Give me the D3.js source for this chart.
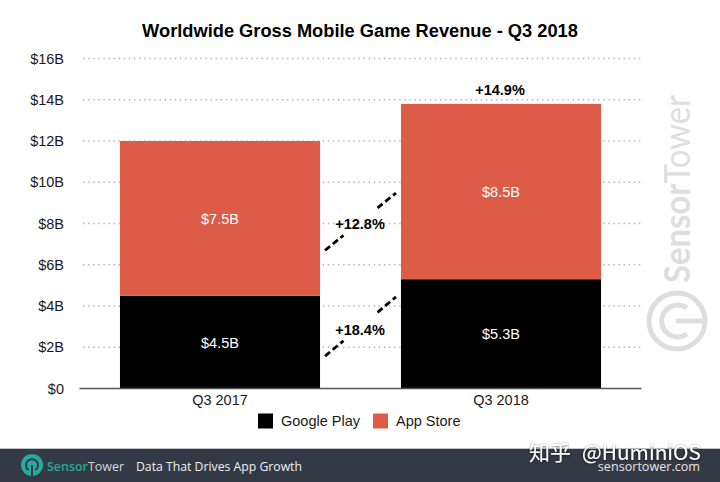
<!DOCTYPE html>
<html>
<head>
<meta charset="utf-8">
<script src="https://cdn.jsdelivr.net/npm/d3@7"></script>
<style>
html, body { margin: 0; padding: 0; background: #fff; }
svg { display: block; }
text { font-family: "Liberation Sans", Arial, sans-serif; }
</style>
</head>
<body>
<div id="chart"></div>
<script>
// chart data
var quarters = ["Q3 2017", "Q3 2018"];
var google_play = [4.5, 5.3];
var app_store = [7.5, 8.5];
var google_labels = ["$4.5B", "$5.3B"];
var store_labels = ["$7.5B", "$8.5B"];
var y_ticks = [0, 2, 4, 6, 8, 10, 12, 14, 16];
var series_names = ["Google Play", "App Store"];
var series_colors = ["#000000", "#dc5c48"];

// dashed growth connectors between the bars, in $B
var connector_from = [1.57, 6.7];
var connector_to = [4.44, 9.48];
var connector_labels = ["+18.4%", "+12.8%"];
var connector_label_at = [2.85, 8.0];
var total_growth = "+14.9%";

var width = 720;
var height = 482;

var svg = d3.select("#chart").append("svg")
	.attr("width", width)
	.attr("height", height);

var x_scale = d3.scaleBand().domain(quarters).range([79.5, 641.5])
	.paddingInner(0.288).paddingOuter(0.144);
var y_scale = d3.scaleLinear().domain([0, 16]).range([388.5, 58.5]);

svg.append("text")
	.attr("x", 360).attr("y", 37)
	.attr("text-anchor", "middle")
	.style("font-size", "18.25px").style("font-weight", "bold")
	.text("Worldwide Gross Mobile Game Revenue - Q3 2018");

// dotted grid
var grid_g = svg.append("g");
y_ticks.slice(1).forEach(function(t) {
	grid_g.append("line")
		.attr("x1", 83).attr("x2", 642)
		.attr("y1", y_scale(t)).attr("y2", y_scale(t))
		.style("stroke", "#b5b5b5")
		.style("stroke-width", "1.3")
		.style("stroke-dasharray", "1.4 3.7");
});

// watermark sits under the bars
var mark = svg.append("g").style("fill", "#dedede");
mark.append("text")
	.attr("transform", "translate(690,283) rotate(-90)")
	.attr("textLength", 188)
	.attr("lengthAdjust", "spacingAndGlyphs")
	.style("font-size", "36px")
	.style("font-family", "Lato, sans-serif")
	.html('<tspan style="font-weight:bold">Sensor</tspan><tspan>Tower</tspan>');
var mark_logo = svg.append("g").attr("transform", "translate(677,321)")
	.style("fill", "none").style("stroke", "#dedede");
mark_logo.append("circle").attr("r", 28).style("stroke-width", 5);
mark_logo.append("path").attr("d", "M 10 -13 A 16 16 0 1 0 10 13").style("stroke-width", 5);
mark_logo.append("line").attr("x1", -1).attr("x2", 28).attr("y1", 0).attr("y2", 0).style("stroke-width", 5);

// bars
var bar_w = x_scale.bandwidth();
svg.append("g").selectAll("rect").data(quarters).enter().append("rect")
	.attr("x", function(d) { return x_scale(d); })
	.attr("y", function(d, i) { return y_scale(google_play[i]); })
	.attr("width", bar_w)
	.attr("height", function(d, i) { return y_scale(0) - y_scale(google_play[i]); })
	.style("fill", series_colors[0]);
svg.append("g").selectAll("rect").data(quarters).enter().append("rect")
	.attr("x", function(d) { return x_scale(d); })
	.attr("y", function(d, i) { return y_scale(google_play[i] + app_store[i]); })
	.attr("width", bar_w)
	.attr("height", function(d, i) { return y_scale(google_play[i]) - y_scale(google_play[i] + app_store[i]); })
	.style("fill", series_colors[1]);

// value labels in the bars
quarters.forEach(function(q, i) {
	var cx = x_scale(q) + bar_w / 2;
	svg.append("text").attr("x", cx).attr("y", y_scale(google_play[i] / 2) + 5.5)
		.attr("text-anchor", "middle").style("fill", "#fff").style("font-size", "14.5px")
		.text(google_labels[i]);
	svg.append("text").attr("x", cx).attr("y", y_scale(google_play[i] + app_store[i] / 2) + 5.5)
		.attr("text-anchor", "middle").style("fill", "#fff").style("font-size", "14.5px")
		.text(store_labels[i]);
});

// y axis
var y_axis = d3.axisLeft(y_scale).tickValues(y_ticks).tickSize(0).tickPadding(0)
	.tickFormat(function(d) { return d == 0 ? "$0" : "$" + d + "B"; });
var y_g = svg.append("g").attr("transform", "translate(64,0)").call(y_axis);
y_g.select(".domain").remove();
y_g.selectAll("text").style("font-size", "14.5px").style("fill", "#1a1a1a")
	.style("font-family", "'Liberation Sans', Arial, sans-serif");

// x axis
var x_axis = d3.axisBottom(x_scale).tickSize(0).tickPadding(6);
var x_g = svg.append("g").attr("transform", "translate(0,388.5)").call(x_axis);
x_g.select(".domain").attr("d", "M79.5,0H641.5").style("stroke", "#555").style("stroke-width", "1.3");
x_g.selectAll("text").style("font-size", "14.5px").style("fill", "#1a1a1a")
	.style("font-family", "'Liberation Sans', Arial, sans-serif");

// growth connectors, broken in the middle where the label goes
var gap_left = x_scale(quarters[0]) + bar_w + 5;
var gap_right = x_scale(quarters[1]) - 5;
var gap_x = d3.scaleLinear().domain([0, 1]).range([gap_left, gap_right]);
connector_from.forEach(function(v, i) {
	var t_y = d3.scaleLinear().domain([0, 1]).range([y_scale(v), y_scale(connector_to[i])]);
	[[0, 0.26], [0.74, 1]].forEach(function(seg) {
		svg.append("line")
			.attr("x1", gap_x(seg[0])).attr("x2", gap_x(seg[1]))
			.attr("y1", t_y(seg[0])).attr("y2", t_y(seg[1]))
			.style("stroke", "#000").style("stroke-width", "2.8")
			.style("stroke-dasharray", "6.5 3.5");
	});
	svg.append("text")
		.attr("x", (gap_left + gap_right) / 2 - 0.5)
		.attr("y", y_scale(connector_label_at[i]) + 5.5)
		.attr("text-anchor", "middle")
		.style("font-size", "14.5px").style("font-weight", "bold")
		.text(connector_labels[i]);
});

svg.append("text")
	.attr("x", x_scale(quarters[1]) + bar_w / 2 - 1)
	.attr("y", y_scale(google_play[1] + app_store[1]) - 9)
	.attr("text-anchor", "middle")
	.style("font-size", "14.5px").style("font-weight", "bold")
	.text(total_growth);

// legend
var legend_x = [258, 373];
series_names.forEach(function(name, i) {
	svg.append("rect").attr("x", legend_x[i]).attr("y", 413.5)
		.attr("width", 15).attr("height", 15).style("fill", series_colors[i]);
	svg.append("text").attr("x", legend_x[i] + 23).attr("y", 426)
		.style("font-size", "14.5px").style("fill", "#1a1a1a").text(name);
});

// footer band
svg.append("rect").attr("x", 0).attr("y", 448).attr("width", width).attr("height", 34).style("fill", "#343a45");
svg.append("rect").attr("x", 0).attr("y", 448).attr("width", width).attr("height", 1).style("fill", "#c4c6c9");

var foot_logo = svg.append("g").attr("transform", "translate(32,465)");
foot_logo.append("circle").attr("r", 11).style("fill", "#27a99c");
foot_logo.append("path").attr("d", "M -3.5 5 A 6 6 0 1 1 3.5 5")
	.style("fill", "none").style("stroke", "#343a45").style("stroke-width", 2);
foot_logo.append("line").attr("x1", 0).attr("x2", 0).attr("y1", 0).attr("y2", 11)
	.style("stroke", "#343a45").style("stroke-width", 2);

svg.append("text").attr("x", 47).attr("y", 471)
	.attr("textLength", 77).attr("lengthAdjust", "spacingAndGlyphs")
	.style("font-family", "'Open Sans', sans-serif").style("font-size", "13.2px")
	.html('<tspan style="fill:#27a99c;font-weight:600">Sensor</tspan><tspan style="fill:#d5d8da">Tower</tspan>');
svg.append("text").attr("x", 136).attr("y", 470.5)
	.attr("textLength", 166).attr("lengthAdjust", "spacingAndGlyphs")
	.style("font-family", "'Open Sans', sans-serif").style("font-size", "12.6px").style("fill", "#eef0f1")
	.text("Data That Drives App Growth");
svg.append("text").attr("x", 700).attr("y", 471).attr("text-anchor", "end")
	.style("font-family", "'Open Sans', sans-serif").style("font-size", "12.6px").style("fill", "#e4e6e8")
	.text("sensortower.com");

// zhihu overlay text, white with a soft grey halo
var halo = svg.append("defs").append("filter").attr("id", "halo")
	.attr("x", "-10%").attr("y", "-30%").attr("width", "120%").attr("height", "160%");
halo.append("feDropShadow").attr("dx", 0).attr("dy", 0.5).attr("stdDeviation", 1.1)
	.attr("flood-color", "#000").attr("flood-opacity", 0.75);
var zhihu = svg.append("g").attr("filter", "url(#halo)")
	.style("fill", "#fff");
zhihu.append("text").attr("x", 529).attr("y", 460)
	.style("font-family", "'Noto Sans CJK SC', sans-serif").style("font-size", "21px")
	.text("知乎");
zhihu.append("text").attr("x", 582).attr("y", 460)
	.attr("textLength", 119).attr("lengthAdjust", "spacingAndGlyphs")
	.style("font-family", "'Noto Sans CJK SC', sans-serif").style("font-size", "20.5px")
	.text("@HuminiOS");
</script>
</body>
</html>
